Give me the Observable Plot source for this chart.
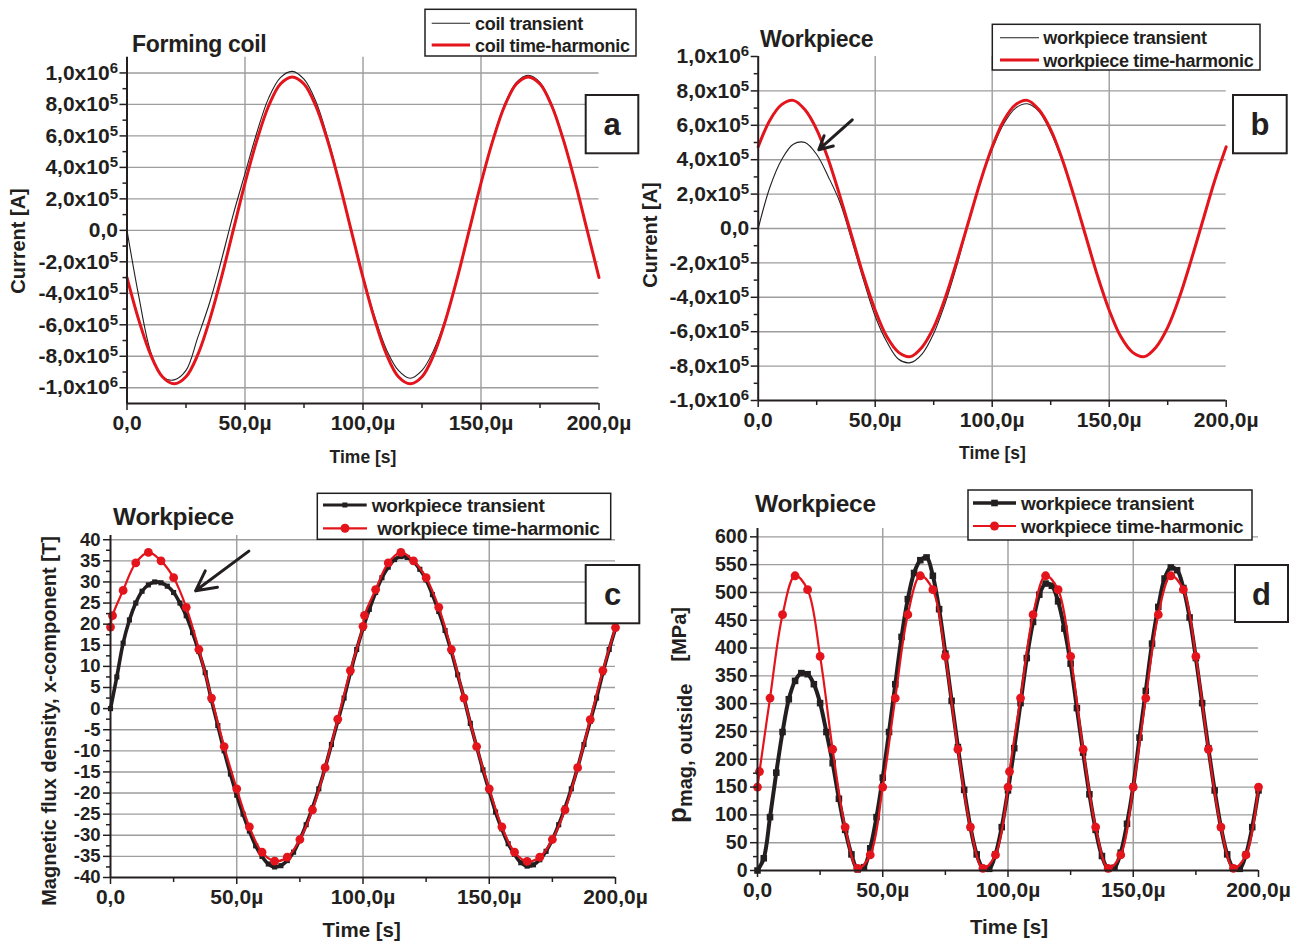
<!DOCTYPE html>
<html><head><meta charset="utf-8">
<script src="https://cdn.jsdelivr.net/npm/d3@7"></script>
<script src="https://cdn.jsdelivr.net/npm/@observablehq/plot@0.6"></script>
<style>
body{margin:0;background:#fff;}
#page{position:relative;width:1303px;height:945px;overflow:hidden;background:#fff;}
</style></head><body><div id="page"></div>
<script>
// ---------- data ----------
const timeCoarse = [0,5,10,15,20,25,30,35,40,45,50,55,60,65,70,75,80,85,90,95,100,105,110,115,120,125,130,135,140,145,150,155,160,165,170,175,180,185,190,195,200];
const coilTransient = [0,-4.2e5,-7.7e5,-9.3e5,-9.5e5,-8.9e5,-6.8e5,-4.6e5,-1.9e5,1.0e5,3.6e5,6.2e5,8.4e5,9.7e5,1.01e6,9.6e5,8.2e5,5.9e5,3.1e5,0,-2.9e5,-5.5e5,-7.6e5,-8.9e5,-9.4e5,-8.9e5,-7.6e5,-5.6e5,-3.0e5,0,3.0e5,5.8e5,8.0e5,9.4e5,9.85e5,9.4e5,8.0e5,5.8e5,3.0e5,0,-3.0e5];
const coilHarmonic = [-3.0e5,-5.7e5,-7.9e5,-9.3e5,-9.75e5,-9.3e5,-7.9e5,-5.7e5,-3.0e5,0,3.0e5,5.7e5,7.9e5,9.3e5,9.75e5,9.3e5,7.9e5,5.7e5,3.0e5,0,-3.0e5,-5.7e5,-7.9e5,-9.3e5,-9.75e5,-9.3e5,-7.9e5,-5.7e5,-3.0e5,0,3.0e5,5.7e5,7.9e5,9.3e5,9.75e5,9.3e5,7.9e5,5.7e5,3.0e5,0,-3.0e5];
const wpCurrentTransient = [0,2.4e5,4.0e5,4.9e5,5.0e5,4.3e5,3.0e5,1.5e5,-0.7e5,-3.0e5,-5.1e5,-6.6e5,-7.6e5,-7.8e5,-7.3e5,-6.1e5,-4.3e5,-2.1e5,0.4e5,2.7e5,4.6e5,6.1e5,7.0e5,7.25e5,6.8e5,5.6e5,3.9e5,1.8e5,-0.5e5,-2.75e5,-4.75e5,-6.3e5,-7.2e5,-7.45e5,-6.9e5,-5.7e5,-4.0e5,-1.85e5,0.45e5,2.7e5,4.7e5];
const wpCurrentHarmonic = [4.75e5,6.3e5,7.2e5,7.45e5,6.9e5,5.75e5,4.0e5,1.85e5,-0.45e5,-2.75e5,-4.75e5,-6.3e5,-7.2e5,-7.45e5,-6.9e5,-5.75e5,-4.0e5,-1.85e5,0.45e5,2.75e5,4.75e5,6.3e5,7.2e5,7.45e5,6.9e5,5.75e5,4.0e5,1.85e5,-0.45e5,-2.75e5,-4.75e5,-6.3e5,-7.2e5,-7.45e5,-6.9e5,-5.75e5,-4.0e5,-1.85e5,0.45e5,2.75e5,4.75e5];

const timeFine = [0,2.5,5,7.5,10,12.5,15,17.5,20,22.5,25,27.5,30,32.5,35,37.5,40,42.5,45,47.5,50,52.5,55,57.5,60,62.5,65,67.5,70,72.5,75,77.5,80,82.5,85,87.5,90,92.5,95,97.5,100,102.5,105,107.5,110,112.5,115,117.5,120,122.5,125,127.5,130,132.5,135,137.5,140,142.5,145,147.5,150,152.5,155,157.5,160,162.5,165,167.5,170,172.5,175,177.5,180,182.5,185,187.5,190,192.5,195,197.5,200];
const fluxTransient = [0,7.5,15.5,21,25,27.8,29.3,30,29.8,29,27.5,25,22,18,13.5,8.5,2,-4,-10,-15.5,-20.5,-25,-29,-32.5,-35,-36.8,-37.5,-37.2,-36,-34,-31,-27.5,-23.5,-19,-14,-8.5,-3,2.5,8.5,14,19,23.5,27.5,31,33.5,35.3,36,35.8,34.8,33,30.5,27,23,18.5,13.5,8,2.5,-3.5,-9,-14.5,-19.5,-24.5,-28.5,-32,-34.5,-36.5,-37.3,-37,-35.8,-33.8,-31,-27.5,-23.5,-19,-14,-8.5,-3,2.5,8.5,14,19];
const pressureTransient = [0,22,96,176,249,308,341,355,353,335,301,249,193,129,73,29,2,6,40,96,167,249,335,420,488,535,558,563,530,470,390,305,222,145,78,29,4,3,29,78,144,220,301,382,447,496,516,512,484,435,372,292,212,137,73,26,3,5,32,84,151,239,323,408,474,525,545,540,508,455,382,301,220,144,78,29,4,3,29,78,144];

const timeHarmonic = [0,0.8,5,10,15,20,25,30,35,40,45,50,55,60,65,70,75,80,85,90,95,100,100.6,105,110,115,120,125,130,135,140,145,150,155,160,165,170,175,180,185,190,195,200];
const fluxHarmonic = [19.3,22,28,34.5,37,35,31,24,14,2.5,-9,-19,-28,-34,-36.1,-35.2,-31,-24,-14,-2.5,9,19.5,22.1,28.2,34.5,37,35,31,24,14,2.5,-9,-19,-28,-34,-36.2,-35.2,-31,-24,-14,-2.6,9,19.2];
const pressureHarmonic = [150,178,310,460,530,505,385,218,78,4,28,150,310,460,530,505,385,218,78,4,28,150,178,310,460,530,505,385,218,78,4,28,150,310,460,530,505,385,218,78,4,28,150];

// ticks
const xTicks = [0,50,100,150,200];
const xTickLabels = ["0,0","50,0µ","100,0µ","150,0µ","200,0µ"];
const xMinor = [25,75,125,175];
const xGrid = [50,100,150];
const currentTicks = [-1e6,-8e5,-6e5,-4e5,-2e5,0,2e5,4e5,6e5,8e5,1e6];
const currentTickLabels = ["-1,0x10^6","-8,0x10^5","-6,0x10^5","-4,0x10^5","-2,0x10^5","0,0","2,0x10^5","4,0x10^5","6,0x10^5","8,0x10^5","1,0x10^6"];
const currentMinor = [-9e5,-7e5,-5e5,-3e5,-1e5,1e5,3e5,5e5,7e5,9e5];
const fluxTicks = [-40,-35,-30,-25,-20,-15,-10,-5,0,5,10,15,20,25,30,35,40];
const fluxTickLabels = ["-40","-35","-30","-25","-20","-15","-10","-5","0","5","10","15","20","25","30","35","40"];
const fluxMinor = [-37.5,-32.5,-27.5,-22.5,-17.5,-12.5,-7.5,-2.5,2.5,7.5,12.5,17.5,22.5,27.5,32.5,37.5];
const pressureTicks = [0,50,100,150,200,250,300,350,400,450,500,550,600];
const pressureTickLabels = ["0","50","100","150","200","250","300","350","400","450","500","550","600"];
const pressureMinor = [25,75,125,175,225,275,325,375,425,475,525,575];

// annotation arrows (data coordinates)
const arrowB = [{x1:40.2, y1:6.32e5, x2:25.9, y2:4.58e5}];
const arrowC = [{x1:54.8, y1:37.3, x2:33.7, y2:27.9}];

// ---------- rendering ----------
const INK = "#231f20", RED = "#e3141b", GRID = "#9d9d9d";
const FONT = "'Liberation Sans', Arial, Helvetica, sans-serif";
const page = document.getElementById("page");

const rowsA = timeCoarse.map((t,i)=>({t, tr: coilTransient[i], th: coilHarmonic[i]}));
const rowsB = timeCoarse.map((t,i)=>({t, tr: wpCurrentTransient[i], th: wpCurrentHarmonic[i]}));
const rowsFine = timeFine.map((t,i)=>({t, b: fluxTransient[i], p: pressureTransient[i]}));
const rowsH = timeHarmonic.map((t,i)=>({t, b: fluxHarmonic[i], p: pressureHarmonic[i]}));

const xLabel = new Map(xTicks.map((v,i)=>[v, xTickLabels[i]]));
const curLabel = new Map(currentTicks.map((v,i)=>[v, currentTickLabels[i]]));
const fluxLabel = new Map(fluxTicks.map((v,i)=>[v, fluxTickLabels[i]]));
const presLabel = new Map(pressureTicks.map((v,i)=>[v, pressureTickLabels[i]]));

function supify(svg){
  svg.querySelectorAll("text").forEach(t=>{
    const s = t.textContent;
    if (s.includes("^")) {
      const [b,e] = s.split("^");
      t.textContent = b;
      const ts = document.createElementNS("http://www.w3.org/2000/svg","tspan");
      ts.setAttribute("font-size","15");
      ts.setAttribute("dy","-7");
      ts.textContent = e;
      t.appendChild(ts);
    }
  });
}

function axes(o){
  const gs = {stroke: GRID, strokeOpacity: 1, strokeWidth: 1.4};
  return {
    grid: [Plot.gridY(o.yGrid, gs), Plot.gridX(xGrid, gs)],
    frame: [
      Plot.axisY(o.yTicks, {tickFormat: d=>o.yLabel.get(d), tickSize: 7, tickPadding: o.yPad, fontSize: o.yFont, strokeWidth: 1.5, label: null}),
      Plot.axisY(o.yMinor, {tickSize: 4, fill: "none", strokeWidth: 1.5, label: null}),
      Plot.axisX(xTicks, {tickFormat: d=>xLabel.get(d), tickSize: 7, tickPadding: 5, fontSize: 21, strokeWidth: 1.5, label: null}),
      Plot.axisX(xMinor, {tickSize: 5, fill: "none", strokeWidth: 1.5, label: null}),
      Plot.ruleX([0], {stroke: INK, strokeWidth: 2}),
      Plot.ruleY([o.yDomain[0]], {stroke: INK, strokeWidth: 2})
    ]
  };
}

function panel(cfg){
  const svg = Plot.plot({
    width: cfg.width, height: cfg.height,
    marginLeft: cfg.ml, marginTop: cfg.mt, marginRight: cfg.mr, marginBottom: cfg.mb,
    x: {domain: [0,200], label: null},
    y: {domain: cfg.yDomain, label: null},
    style: {fontFamily: FONT, fontWeight: "bold", color: INK, background: "transparent", overflow: "visible"},
    marks: cfg.marks
  });
  supify(svg);
  svg.style.position = "absolute";
  svg.style.left = cfg.left + "px";
  svg.style.top = cfg.top + "px";
  svg.style.maxWidth = "none";
  page.appendChild(svg);
}

// Panel a
{
  const o = {yTicks: currentTicks, yLabel: curLabel, yMinor: currentMinor, yGrid: currentTicks, yPad: 2, yFont: 21, yDomain: [-1.1e6, 1.1e6]};
  const ax = axes(o);
  panel({left:0, top:0, width:650, height:470, ml:126.5, mt:56.7, mr:51.5, mb:67, yDomain:o.yDomain, marks:[
    ...ax.grid,
    Plot.line(rowsA, {x:"t", y:"tr", stroke: INK, strokeWidth: 1.1, curve:"catmull-rom"}),
    Plot.line(rowsA, {x:"t", y:"th", stroke: RED, strokeWidth: 3, curve:"catmull-rom"}),
    ...ax.frame
  ]});
}
// Panel b
{
  const o = {yTicks: currentTicks, yLabel: curLabel, yMinor: currentMinor, yGrid: currentTicks.slice(1,-1), yPad: 2, yFont: 21, yDomain: [-1e6, 1e6]};
  const ax = axes(o);
  panel({left:650, top:0, width:653, height:470, ml:107.7, mt:56, mr:77.3, mb:70, yDomain:o.yDomain, marks:[
    ...ax.grid,
    Plot.line(rowsB, {x:"t", y:"tr", stroke: INK, strokeWidth: 1.1, curve:"catmull-rom"}),
    Plot.line(rowsB, {x:"t", y:"th", stroke: RED, strokeWidth: 3, curve:"catmull-rom"}),
    Plot.arrow(arrowB, {x1:"x1", y1:"y1", x2:"x2", y2:"y2", stroke: INK, strokeWidth: 3, headLength: 13, headAngle: 55}),
    ...ax.frame
  ]});
}
// Panel c
{
  const o = {yTicks: fluxTicks, yLabel: fluxLabel, yMinor: fluxMinor, yGrid: fluxTicks.slice(1), yPad: 3, yFont: 18.5, yDomain: [-40, 41]};
  const ax = axes(o);
  panel({left:0, top:470, width:650, height:475, ml:110, mt:65, mr:35, mb:68, yDomain:o.yDomain, marks:[
    ...ax.grid,
    Plot.line(rowsFine, {x:"t", y:"b", stroke: INK, strokeWidth: 3.6, curve:"catmull-rom"}),
    Plot.dot(rowsFine, {x:"t", y:"b", symbol:"square", r: 2.9, fill: INK}),
    Plot.line(rowsH, {x:"t", y:"b", stroke: RED, strokeWidth: 2.2, curve:"catmull-rom"}),
    Plot.dot(rowsH, {x:"t", y:"b", r: 4.4, fill: RED}),
    Plot.arrow(arrowC, {x1:"x1", y1:"y1", x2:"x2", y2:"y2", stroke: INK, strokeWidth: 3, headLength: 13, headAngle: 55}),
    ...ax.frame
  ]});
}
// Panel d
{
  const o = {yTicks: pressureTicks, yLabel: presLabel, yMinor: pressureMinor, yGrid: pressureTicks.slice(1), yPad: 3, yFont: 19.5, yDomain: [0, 615]};
  const ax = axes(o);
  panel({left:650, top:470, width:653, height:475, ml:107, mt:58, mr:45, mb:75, yDomain:o.yDomain, marks:[
    ...ax.grid,
    Plot.line(rowsFine, {x:"t", y:"p", stroke: INK, strokeWidth: 4, curve:"catmull-rom"}),
    Plot.dot(rowsFine, {x:"t", y:"p", symbol:"square", r: 3.7, fill: INK}),
    Plot.line(rowsH, {x:"t", y:"p", stroke: RED, strokeWidth: 2.2, curve:"catmull-rom"}),
    Plot.dot(rowsH, {x:"t", y:"p", r: 4.4, fill: RED}),
    ...ax.frame
  ]});
}

// ---------- overlay texts, legends, labels ----------
const ov = d3.select(page).append("svg")
  .attr("width",1303).attr("height",945)
  .style("position","absolute").style("left","0px").style("top","0px")
  .style("font-family",FONT).style("font-weight","bold").attr("fill",INK);

function txt(x,y,s,size,anchor="start",ls=0){
  return ov.append("text").attr("x",x).attr("y",y).attr("font-size",size).attr("text-anchor",anchor).attr("letter-spacing",ls).text(s);
}
function vtxt(x,y,s,size){
  return ov.append("text").attr("transform",`translate(${x},${y}) rotate(-90)`).attr("text-anchor","middle").attr("font-size",size).text(s);
}
function letterBox(x1,y1,x2,y2,s){
  ov.append("rect").attr("x",x1).attr("y",y1).attr("width",x2-x1).attr("height",y2-y1).attr("fill","#fff").attr("stroke",INK).attr("stroke-width",2);
  txt((x1+x2)/2,(y1+y2)/2+11,s,31,"middle");
}
function legend(x1,y1,x2,y2,rows,size){
  ov.append("rect").attr("x",x1).attr("y",y1).attr("width",x2-x1).attr("height",y2-y1).attr("fill","#fff").attr("stroke",INK).attr("stroke-width",1.5);
  rows.forEach(r=>{
    ov.append("line").attr("x1",r.s1).attr("x2",r.s2).attr("y1",r.y).attr("y2",r.y).attr("stroke",r.color).attr("stroke-width",r.w);
    const mx=(r.s1+r.s2)/2;
    if (r.marker==="square") ov.append("rect").attr("x",mx-r.m).attr("y",r.y-r.m).attr("width",2*r.m).attr("height",2*r.m).attr("fill",r.color);
    if (r.marker==="dot") ov.append("circle").attr("cx",mx).attr("cy",r.y).attr("r",r.m).attr("fill",r.color);
    txt(r.tx, r.y+6.5, r.text, size, "start", -0.3);
  });
}

// titles
txt(132,52,"Forming coil",23,"start",-0.3);
txt(760,46.7,"Workpiece",23,"start",-0.3);
txt(113,525,"Workpiece",24.5,"start",-0.3);
txt(755,512,"Workpiece",24.5,"start",-0.3);

// axis titles
vtxt(25,241,"Current [A]",20);
vtxt(657,235,"Current [A]",20);
txt(363,463,"Time [s]",17.5,"middle");
txt(992.5,459,"Time [s]",17.5,"middle");
vtxt(56,721,"Magnetic flux density, x-component [T]",20);
txt(361.7,937,"Time [s]",20.5,"middle");
txt(1009,934,"Time [s]",20.5,"middle");
{
  const t = ov.append("text").attr("transform","translate(686,715) rotate(-90)").attr("text-anchor","middle");
  t.append("tspan").attr("font-size",26).text("p");
  t.append("tspan").attr("font-size",20).attr("dy",6).text("mag, outside");
  t.append("tspan").attr("font-size",20).attr("dy",-6).text("\u00a0\u00a0\u00a0 [MPa]");
}

// legends
legend(425,9.3,636,56,[
  {y:23.3,s1:431.7,s2:470,color:INK,w:1.1,text:"coil transient",tx:475},
  {y:45,s1:431.7,s2:470,color:RED,w:3,text:"coil time-harmonic",tx:475}
],18);
legend(992.3,24.3,1260,70,[
  {y:37.7,s1:1000,s2:1039,color:INK,w:1.1,text:"workpiece transient",tx:1043.3},
  {y:60,s1:1000,s2:1039,color:RED,w:3,text:"workpiece time-harmonic",tx:1043.3}
],18);
legend(317.3,493.3,610.7,539.3,[
  {y:505,s1:323,s2:366.7,color:INK,w:3,marker:"square",m:2.5,text:"workpiece transient",tx:371.7},
  {y:528.3,s1:323,s2:367,color:RED,w:2.2,marker:"dot",m:4.5,text:"workpiece time-harmonic",tx:377.3}
],19);
legend(968,490,1252,540,[
  {y:503,s1:973,s2:1016,color:INK,w:3.6,marker:"square",m:3.3,text:"workpiece transient",tx:1021},
  {y:526,s1:973,s2:1016,color:RED,w:2.2,marker:"dot",m:4.5,text:"workpiece time-harmonic",tx:1021}
],19);

// panel letters
letterBox(585.7,95,638.3,153.3,"a");
letterBox(1233,95,1286.7,153.3,"b");
letterBox(585.7,565,639.3,623.3,"c");
letterBox(1235,565,1288,622,"d");
</script></body></html>
